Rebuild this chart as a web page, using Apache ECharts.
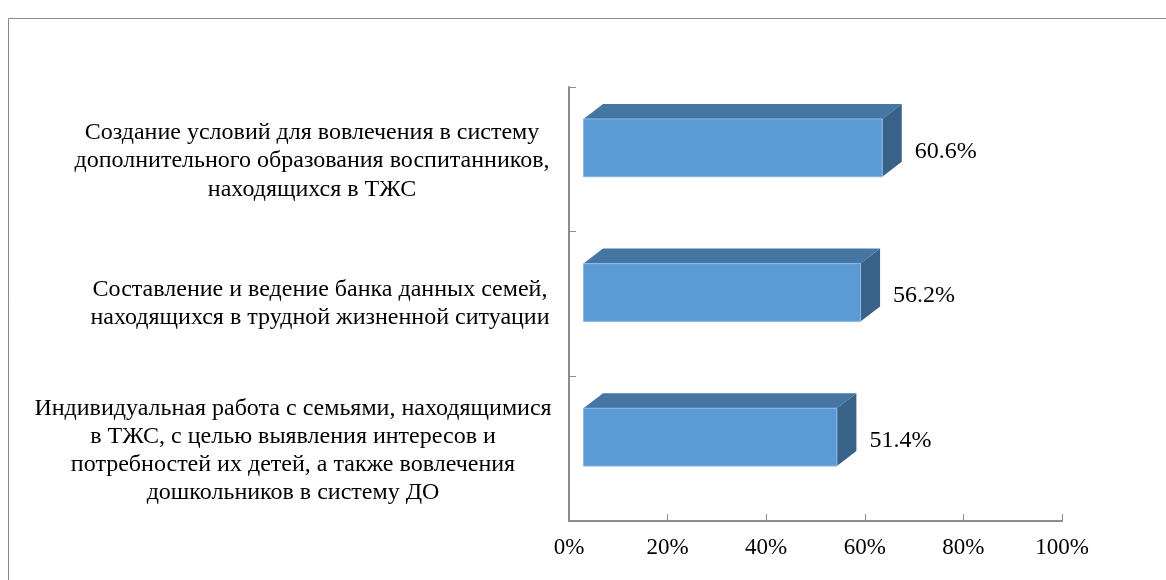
<!DOCTYPE html>
<html>
<head>
<meta charset="utf-8">
<script src="https://cdn.jsdelivr.net/npm/echarts@6/dist/echarts.min.js"></script>
<style>
  html, body { margin: 0; padding: 0; background: #fff; }
  #chart { width: 1166px; height: 580px; }
</style>
</head>
<body>
<div id="chart"></div>
<script>
// categories from bottom to top
var categories = [
  'Индивидуальная работа с семьями, находящимися\nв ТЖС, с целью выявления интересов и\nпотребностей их детей, а также вовлечения\nдошкольников в систему ДО',
  'Составление и ведение банка данных семей,\nнаходящихся в трудной жизненной ситуации',
  'Создание условий для вовлечения в систему\nдополнительного образования воспитанников,\nнаходящихся в ТЖС'
];
var values = [51.4, 56.2, 60.6];
var xTicks = [0, 20, 40, 60, 80, 100];

(function(){
  var myChart = echarts.init(document.getElementById('chart'));
  var font = "'Liberation Serif', 'Times New Roman', serif";

  // 3d look: front face shift and depth
  var shiftX = 14.5, shiftY = -11.5, depthX = 19.5, depthY = -15;

  option = {
    animation: false,
    grid: { left: 569, right: 104, top: 87, bottom: 59 },
    graphic: [{
      type: 'rect',
      shape: { x: 8.5, y: 18.5, width: 1200, height: 600 },
      style: { fill: 'none', stroke: '#8a8a8a', lineWidth: 1 },
      silent: true
    }],
    xAxis: {
      type: 'value',
      min: xTicks[0],
      max: xTicks[xTicks.length - 1],
      interval: 20,
      axisLine: { show: true, lineStyle: { color: '#8c8c8c', width: 2 } },
      axisTick: { show: true, inside: true, length: 7, lineStyle: { color: '#8c8c8c' } },
      splitLine: { show: false },
      axisLabel: {
        formatter: '{value}%',
        margin: 15,
        color: '#000',
        fontFamily: font,
        fontSize: 23
      }
    },
    yAxis: {
      type: 'category',
      data: categories,
      axisLine: { show: true, lineStyle: { color: '#8c8c8c', width: 2 } },
      axisTick: { show: true, inside: true, length: 7, lineStyle: { color: '#8c8c8c' } },
      axisLabel: {
        align: 'right',
        margin: 18,
        color: '#000',
        formatter: function (val, idx) {
          return '{c' + idx + '|' + val + '}';
        },
        rich: {
          c0: { width: 516, align: 'center', fontFamily: font, fontSize: 24, lineHeight: 28, color: '#000', padding: [4, 0, 0, 0] },
          c1: { width: 462, align: 'center', fontFamily: font, fontSize: 24, lineHeight: 28, color: '#000' },
          c2: { width: 478, align: 'center', fontFamily: font, fontSize: 24, lineHeight: 28.5, color: '#000', padding: [3, 0, 0, 0] }
        }
      }
    },
    series: [{
      type: 'custom',
      encode: { x: 0, y: 1 },
      data: values.map(function (v, i) { return [v, i]; }),
      renderItem: function (params, api) {
        var v = api.value(0), i = api.value(1);
        var start = api.coord([0, i]);
        var end = api.coord([v, i]);
        var h = api.size([0, 1])[1] * 0.4;
        var x0 = start[0] + shiftX, x1 = end[0] + shiftX;
        var yT = end[1] + shiftY - h / 2, yB = end[1] + shiftY + h / 2;
        return {
          type: 'group',
          children: [{
            type: 'polygon',
            shape: { points: [[x0, yT], [x1, yT], [x1 + depthX, yT + depthY], [x0 + depthX, yT + depthY]] },
            style: { fill: '#4575a3' }
          }, {
            type: 'polygon',
            shape: { points: [[x1, yT], [x1 + depthX, yT + depthY], [x1 + depthX, yB + depthY], [x1, yB]] },
            style: { fill: '#386287' }
          }, {
            type: 'rect',
            shape: { x: x0, y: yT, width: x1 - x0, height: yB - yT },
            style: { fill: '#5b9bd5', stroke: '#8fb8e3', lineWidth: 1 }
          }, {
            type: 'text',
            x: end[0] + 47,
            y: end[1] - 8,
            style: {
              text: v.toFixed(1) + '%',
              fill: '#000',
              font: '24px ' + font,
              textAlign: 'left',
              textVerticalAlign: 'middle'
            }
          }]
        };
      }
    }]
  };

  myChart.setOption(option);
})();
</script>
</body>
</html>
